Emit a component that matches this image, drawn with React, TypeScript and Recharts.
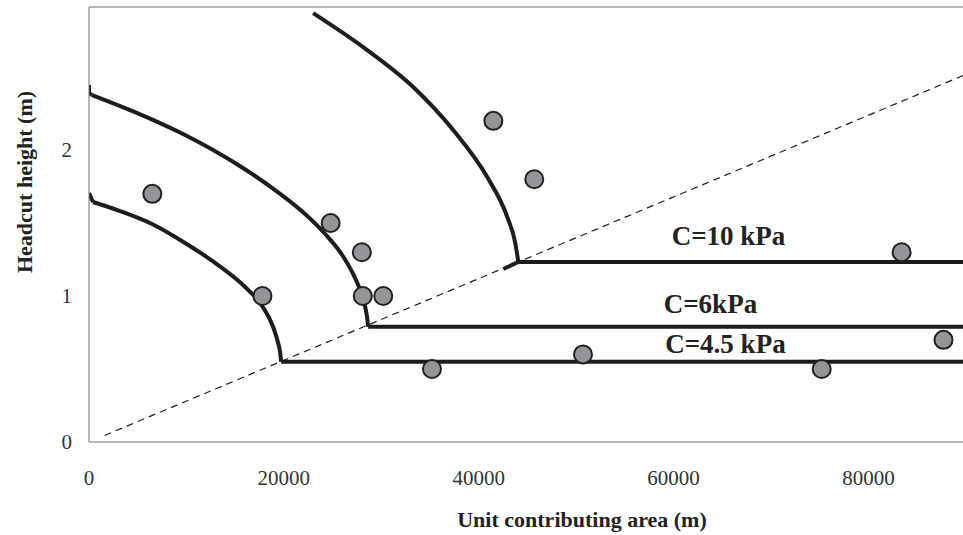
import React from 'react';
import {
  ComposedChart,
  Line,
  Scatter,
  XAxis,
  YAxis,
  ReferenceLine,
  ReferenceDot,
} from 'recharts';

// Axis ticks
const areaTicks = [0, 20000, 40000, 60000, 80000];
const heightTicks = [0, 1, 2];
const AREA_MAX = 89700;
const HEIGHT_MAX = 2.98;

// Field observations of headcut height vs. unit contributing area
const observedArea = [6500, 17800, 24800, 28000, 28100, 30200, 35200, 41500, 45700, 50700, 75200, 83400, 87700];
const observedHeight = [1.7, 1.0, 1.5, 1.3, 1.0, 1.0, 0.5, 2.2, 1.8, 0.6, 0.5, 1.3, 0.7];

// Threshold line (dashed)
const thresholdArea = [1600, 89700];
const thresholdHeight = [0.045, 2.51];

// C = 4.5 kPa boundary
const hook45Area = [0, 410];
const hook45Height = [1.705, 1.644];
const arc45Area = [410, 3180, 6470, 9860, 13250, 16020, 17770, 18900, 19410, 19610, 19720];
const arc45Height = [1.644, 1.582, 1.493, 1.363, 1.212, 1.062, 0.932, 0.788, 0.678, 0.616, 0.55];
const floor45Area = [19720, 89700];
const floor45Height = [0.55, 0.55];

// C = 6 kPa boundary
const hook6Area = [0, 0, 310];
const hook6Height = [2.445, 2.39, 2.377];
const arc6Area = [310, 4720, 9860, 14990, 19100, 22180, 24240, 25780, 27010, 27830, 28350, 28550, 28650];
const arc6Height = [2.377, 2.26, 2.103, 1.911, 1.726, 1.562, 1.425, 1.301, 1.164, 1.041, 0.925, 0.849, 0.79];
const floor6Area = [28650, 89700];
const floor6Height = [0.79, 0.79];

// C = 10 kPa boundary
const arc10Area = [23000, 28140, 33270, 37380, 40870, 42930, 43750, 44060];
const arc10Height = [2.938, 2.705, 2.432, 2.137, 1.815, 1.541, 1.363, 1.233];
const hook10Area = [44060, 42520];
const hook10Height = [1.233, 1.185];
const floor10Area = [44060, 89700];
const floor10Height = [1.233, 1.233];

// Boundary labels
const boundaryLabels = ['C=10 kPa', 'C=6kPa', 'C=4.5 kPa'];
const labelArea = [65630, 63780, 65320];
const labelHeight = [1.349, 0.884, 0.61];

const zip = (xs: number[], ys: number[]) => xs.map((x, i) => ({ x, y: ys[i] }));

const observed = zip(observedArea, observedHeight);
const threshold = zip(thresholdArea, thresholdHeight);

const solidSeries = [
  { key: 'hook45', data: zip(hook45Area, hook45Height), type: 'linear' },
  { key: 'arc45', data: zip(arc45Area, arc45Height), type: 'monotone' },
  { key: 'floor45', data: zip(floor45Area, floor45Height), type: 'linear' },
  { key: 'hook6', data: zip(hook6Area, hook6Height), type: 'linear' },
  { key: 'arc6', data: zip(arc6Area, arc6Height), type: 'monotone' },
  { key: 'floor6', data: zip(floor6Area, floor6Height), type: 'linear' },
  { key: 'arc10', data: zip(arc10Area, arc10Height), type: 'monotone' },
  { key: 'hook10', data: zip(hook10Area, hook10Height), type: 'linear' },
  { key: 'floor10', data: zip(floor10Area, floor10Height), type: 'linear' },
];

const SERIF = "'Liberation Serif', 'Times New Roman', Times, serif";
const INK = '#1d1d1b';
const AXIS_GREY = '#707070';

const AreaTick = (props: any) => {
  const { x, y, payload } = props;
  return (
    <text x={x} y={y} dy={35} textAnchor="middle" fontFamily={SERIF} fontSize={21} fill="#333">
      {payload.value}
    </text>
  );
};

const HeightTick = (props: any) => {
  const { x, y, payload } = props;
  return (
    <text x={x - 9} y={y} dy={7} textAnchor="end" fontFamily={SERIF} fontSize={21} fill="#333">
      {payload.value}
    </text>
  );
};

const ObservationDot = (props: any) => {
  const { cx, cy } = props;
  if (cx == null || cy == null) return <g />;
  return <circle cx={cx} cy={cy} r={9} fill="#949599" stroke="#231f20" strokeWidth={2} />;
};

export default function App() {
  return (
    <div style={{ position: 'absolute', left: 0, top: 0, background: '#fff' }}>
      <ComposedChart
        width={963}
        height={535}
        margin={{ top: 7, right: 0, bottom: 0, left: 0 }}
      >
        <XAxis
          dataKey="x"
          type="number"
          domain={[0, AREA_MAX]}
          ticks={areaTicks}
          allowDataOverflow
          height={93}
          tickLine={false}
          axisLine={{ stroke: AXIS_GREY, strokeWidth: 1 }}
          tick={<AreaTick />}
          label={{
            content: (p: any) => {
              const vb = p.viewBox;
              return (
                <text
                  x={vb.x + 493}
                  y={vb.y + 85}
                  textAnchor="middle"
                  fontFamily={SERIF}
                  fontWeight="bold"
                  fontSize={22}
                  fill="#222"
                >
                  Unit contributing area (m)
                </text>
              );
            },
          }}
        />
        <YAxis
          dataKey="y"
          type="number"
          domain={[0, HEIGHT_MAX]}
          ticks={heightTicks}
          allowDataOverflow
          width={89}
          tickLine={false}
          axisLine={{ stroke: AXIS_GREY, strokeWidth: 1 }}
          tick={<HeightTick />}
          label={{
            content: (p: any) => {
              const vb = p.viewBox;
              const cx = vb.x + 32;
              const cy = vb.y + 175;
              return (
                <text
                  x={cx}
                  y={cy}
                  transform={`rotate(-90, ${cx}, ${cy})`}
                  textAnchor="middle"
                  fontFamily={SERIF}
                  fontWeight="bold"
                  fontSize={22}
                  fill="#222"
                >
                  Headcut height (m)
                </text>
              );
            },
          }}
        />
        <ReferenceLine y={HEIGHT_MAX} stroke={AXIS_GREY} strokeWidth={1} ifOverflow="visible" />

        <Line
          data={threshold}
          dataKey="y"
          type="linear"
          stroke={INK}
          strokeWidth={1.2}
          strokeDasharray="7 5"
          dot={false}
          activeDot={false}
          isAnimationActive={false}
        />

        {solidSeries.map((s) => (
          <Line
            key={s.key}
            data={s.data}
            dataKey="y"
            type={s.type as any}
            stroke={INK}
            strokeWidth={4}
            strokeLinejoin="round"
            dot={false}
            activeDot={false}
            isAnimationActive={false}
          />
        ))}

        {boundaryLabels.map((text, i) => (
          <ReferenceDot
            key={text}
            x={labelArea[i]}
            y={labelHeight[i]}
            r={0}
            ifOverflow="visible"
            shape={(p: any) => (
              <text
                x={p.cx}
                y={p.cy}
                textAnchor="middle"
                fontFamily={SERIF}
                fontWeight="bold"
                fontSize={27}
                fill="#222"
              >
                {text}
              </text>
            )}
          />
        ))}

        <Scatter data={observed} shape={<ObservationDot />} isAnimationActive={false} />
      </ComposedChart>
    </div>
  );
}
